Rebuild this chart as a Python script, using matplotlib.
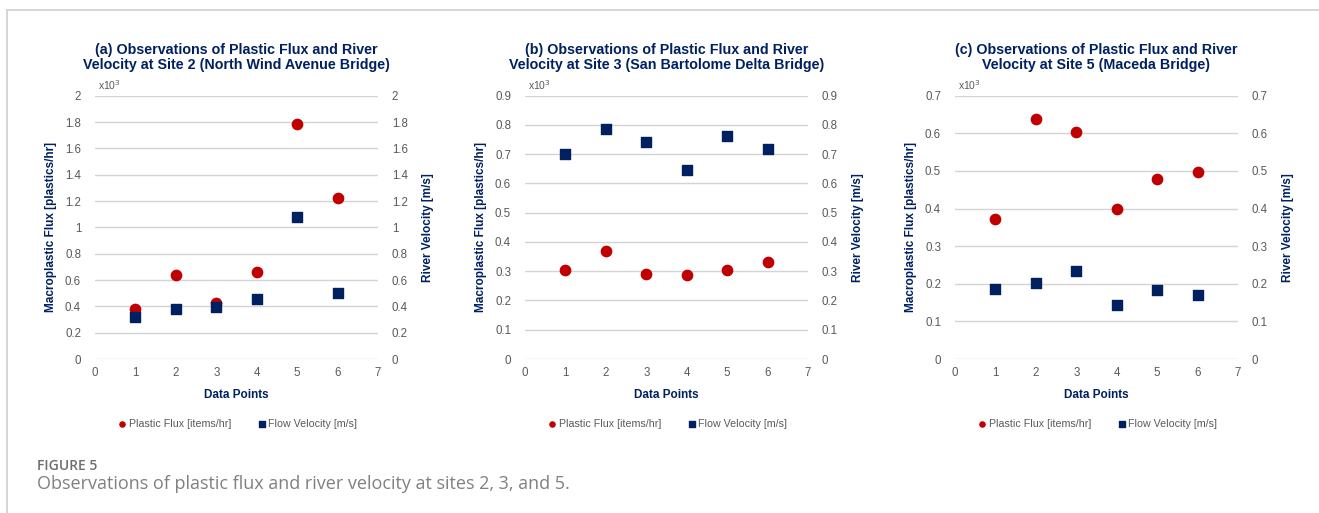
"""
plastic flux and river velocity observations at three bridge sites
"""
import matplotlib.pyplot as plt

plt.rcParams['font.family'] = ['Liberation Sans', 'DejaVu Sans']

red = '#C00000'
navy = '#002060'
grey = '#595959'

# data points (x axis)
points = [1, 2, 3, 4, 5, 6]

# plastic flux in thousands of items/hr, flow velocity in m/s
flux_site2 = [0.38, 0.635, 0.425, 0.658, 1.785, 1.225]
vel_site2 = [0.32, 0.377, 0.395, 0.458, 1.075, 0.504]

flux_site3 = [0.303, 0.368, 0.290, 0.287, 0.303, 0.332]
vel_site3 = [0.702, 0.785, 0.743, 0.646, 0.762, 0.718]

flux_site5 = [0.371, 0.638, 0.603, 0.400, 0.479, 0.497]
vel_site5 = [0.187, 0.201, 0.233, 0.144, 0.184, 0.170]

titles = ['(a) Observations of Plastic Flux and River\nVelocity at Site 2 (North Wind Avenue Bridge)',
          '(b) Observations of Plastic Flux and River\nVelocity at Site 3 (San Bartolome Delta Bridge)',
          '(c) Observations of Plastic Flux and River\nVelocity at Site 5 (Maceda Bridge)']
y_max = [2.0, 0.9, 0.7]
y_step = [0.2, 0.1, 0.1]
flux_all = [flux_site2, flux_site3, flux_site5]
vel_all = [vel_site2, vel_site3, vel_site5]

fig = plt.figure(figsize=[13.19, 5.13], dpi=100)

# frame lines of the page
fig.add_artist(plt.Line2D([7/1319, 7/1319], [0, 1 - 10/513], color='#d0d0d0', lw=1.2))
fig.add_artist(plt.Line2D([7/1319, 1], [1 - 10/513, 1 - 10/513], color='#d0d0d0', lw=1.2))

lefts = [95, 525, 955]
for i in range(3):
    ax = fig.add_axes([lefts[i]/1319, 1 - 359/513, 283/1319, (359 - 95.7)/513])
    ax2 = ax.twinx()

    n_ticks = int(round(y_max[i] / y_step[i])) + 1
    ticks = [round(k * y_step[i], 2) for k in range(n_ticks)]
    labels = [f'{t:g}' for t in ticks]

    for a in (ax, ax2):
        a.set_xlim(0, 7)
        a.set_ylim(0, y_max[i])
        a.set_yticks(ticks)
        a.set_yticklabels(labels)
        for s in a.spines.values():
            s.set_visible(False)
        a.tick_params(length=0, labelsize=8.3, labelcolor=grey, pad=10)
    ax.set_xticks(range(8))
    ax.tick_params(axis='x', pad=6)
    ax.grid(axis='y', color='#d4d4d4', lw=1.0)
    ax.set_axisbelow(True)

    ax.scatter(points, flux_all[i], s=55, marker='o', color=red, zorder=3,
               label='Plastic Flux [items/hr]')
    ax.scatter(points, vel_all[i], s=60, marker='s', color=navy, zorder=4,
               label='Flow Velocity [m/s]')

    ax.set_title(titles[i], fontsize=10.3, fontweight='bold', color=navy, pad=19,
                 linespacing=1.15)
    ax.set_xlabel('Data Points', fontsize=8.5, fontweight='bold', color=navy, labelpad=7)
    ax.set_ylabel('Macroplastic Flux [plastics/hr]', fontsize=8.5, fontweight='bold',
                  color=navy, labelpad=6)
    ax2.set_ylabel('River Velocity [m/s]', fontsize=8.5, fontweight='bold',
                   color=navy, labelpad=10)
    ax.text(0.01, 1.015, 'x10$^3$', transform=ax.transAxes, fontsize=7.5, color=grey,
            va='bottom', ha='left')

    leg = ax.legend(loc='upper center', bbox_to_anchor=(0.5, -0.19), ncol=2, frameon=False,
                    fontsize=7.7, markerscale=0.5, handletextpad=0.0, columnspacing=2.3,
                    handlelength=1.2)
    for t in leg.get_texts():
        t.set_color(grey)

# caption
fig.text(37/1319, 1 - 470/513, 'FIGURE 5', fontsize=10, color='#6e6e6e',
         family='Open Sans', fontweight='semibold', va='baseline')
fig.text(37/1319, 1 - 489/513, 'Observations of plastic flux and river velocity at sites 2, 3, and 5.',
         fontsize=13, color='#808080', family='Open Sans', va='baseline')

plt.savefig('out.png', dpi=100)
